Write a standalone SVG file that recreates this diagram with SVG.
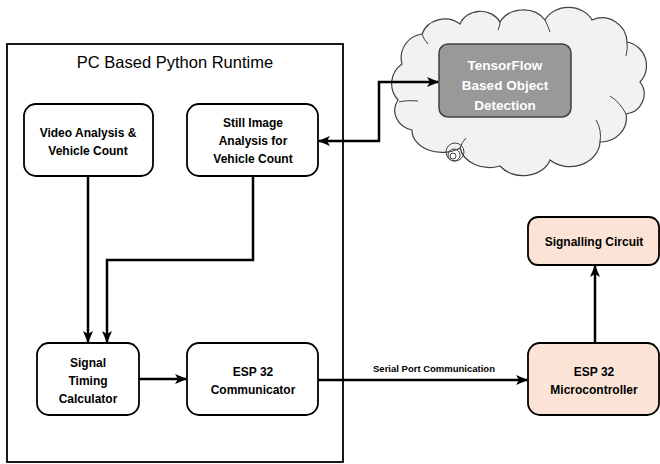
<svg xmlns="http://www.w3.org/2000/svg" width="660" height="464" viewBox="0 0 660 464">
<style>
.box{fill:#fff;stroke:#000;stroke-width:1.8}
.peach{fill:#fbe4d5;stroke:#000;stroke-width:1.8}
.t{font-family:"Liberation Sans",Arial,sans-serif;font-weight:bold;font-size:12px;fill:#000;text-anchor:middle}
.w{font-family:"Liberation Sans",Arial,sans-serif;font-weight:bold;font-size:13.5px;fill:#fff;text-anchor:middle}
.c{fill:none;stroke:#000;stroke-width:2.5}
.ci{fill:none;stroke:#404040;stroke-width:1}
</style>
<defs>
<marker id="ah" viewBox="0 0 12 10" refX="11" refY="5" markerWidth="12" markerHeight="10" markerUnits="userSpaceOnUse" orient="auto-start-reverse">
<path d="M0,0 L12,5 L0,10 L3,5 z" fill="#000"/>
</marker>
</defs>
<rect width="660" height="464" fill="#fff"/>
<g id="runtime">
<rect x="7" y="44" width="336" height="418" fill="none" stroke="#000" stroke-width="1.8"/>
<text x="175" y="68" font-family="Liberation Sans,Arial,sans-serif" font-size="16.5" text-anchor="middle">PC Based Python Runtime</text>
</g>
<g id="cloud">
<path d="M402,64 A24,24 0 0 1 422,34 A24,22 0 0 1 460,24 A22,20 0 0 1 500,22 A26,22 0 0 1 545,20 A26,22 0 0 1 592,20 A25,25 0 0 1 627,42 A24,24 0 0 1 640,82 A20,20 0 0 1 626,114 A26,24 0 0 1 600,142 A30,26 0 0 1 550,160 A28,22 0 0 1 500,166 A30,24 0 0 1 460,148 A30,22 0 0 1 412,130 A22,20 0 0 1 398,100 A24,24 0 0 1 402,64 z" fill="#f2f2f2" stroke="#404040" stroke-width="1.2"/>
<path class="ci" d="M399,102 Q406,100 418,101"/>
<path class="ci" d="M460,148 Q462,142 466,138"/>
<path class="ci" d="M600,142 Q602,130 596,120"/>
<path class="ci" d="M626,114 Q620,102 610,96"/>
<path class="ci" d="M627,42 Q628,48 626,56"/>
<path class="ci" d="M545,20 Q548,26 550,32"/>
<path class="ci" d="M500,22 Q500,26 498,30"/>
<path class="ci" d="M422,34 Q424,40 428,44"/>
<circle class="ci" cx="455" cy="152" r="9"/>
<circle class="ci" cx="454" cy="155" r="6"/>
<circle class="ci" cx="453" cy="156" r="3"/>
</g>
<g id="tensorflow">
<rect x="439" y="44" width="132" height="73" rx="9" fill="#999" stroke="#404040" stroke-width="1.5"/>
<text class="w" x="505" y="70">TensorFlow</text>
<text class="w" x="505" y="90">Based Object</text>
<text class="w" x="505" y="110">Detection</text>
</g>
<g id="video">
<rect class="box" x="24" y="104" width="129" height="72" rx="12"/>
<text class="t" x="88" y="137">Video Analysis &amp;</text>
<text class="t" x="88" y="155">Vehicle Count</text>
</g>
<g id="still">
<rect class="box" x="187" y="104" width="131" height="72" rx="12"/>
<text class="t" x="253" y="127">Still Image</text>
<text class="t" x="253" y="145">Analysis for</text>
<text class="t" x="253" y="163">Vehicle Count</text>
</g>
<g id="timing">
<rect class="box" x="37" y="343" width="102" height="72" rx="12"/>
<text class="t" x="88" y="367">Signal</text>
<text class="t" x="88" y="385">Timing</text>
<text class="t" x="88" y="403">Calculator</text>
</g>
<g id="communicator">
<rect class="box" x="187" y="343" width="131" height="72" rx="12"/>
<text class="t" x="253" y="376">ESP 32</text>
<text class="t" x="253" y="394">Communicator</text>
</g>
<g id="micro">
<rect class="peach" x="528" y="343" width="131" height="72" rx="12"/>
<text class="t" x="594" y="376">ESP 32</text>
<text class="t" x="594" y="394">Microcontroller</text>
</g>
<g id="signalling">
<rect class="peach" x="528" y="217" width="131" height="48" rx="10"/>
<text class="t" x="594" y="246">Signalling Circuit</text>
</g>
<g id="connectors">
<path class="c" d="M88,176 V342" marker-end="url(#ah)"/>
<path class="c" d="M253,176 V260 H107 V342" marker-end="url(#ah)"/>
<path class="c" d="M319,141 H379 V82 H438" marker-start="url(#ah)" marker-end="url(#ah)"/>
<path class="c" d="M139,379 H186" marker-end="url(#ah)"/>
<path class="c" d="M318,380 H527" marker-end="url(#ah)"/>
<path class="c" d="M595,343 V266" marker-end="url(#ah)"/>
<text x="434" y="372" font-family="Liberation Sans,Arial,sans-serif" font-weight="bold" font-size="9.5" text-anchor="middle">Serial Port Communication</text>
</g>
</svg>
